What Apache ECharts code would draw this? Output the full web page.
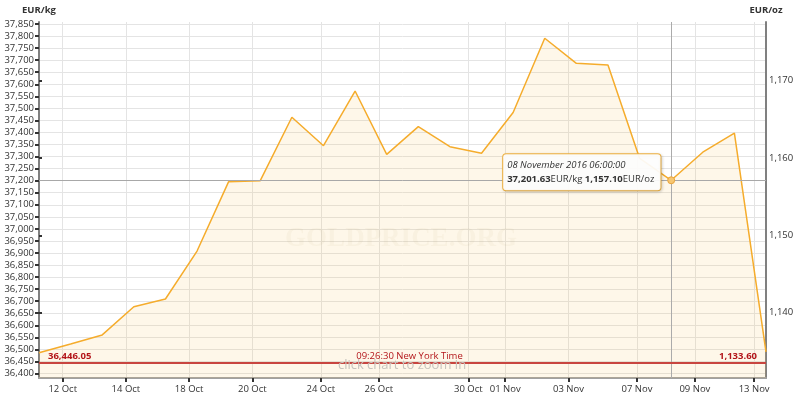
<!DOCTYPE html>
<html>
<head>
<meta charset="utf-8">
<script src="https://cdn.jsdelivr.net/npm/echarts@6/dist/echarts.min.js"></script>
<style>html,body{margin:0;padding:0;background:#fff}#c{width:802px;height:400px}</style>
</head>
<body>
<div id="c"></div>
<script>
// ---- data ----
const OZ_PER_KG = 32.1507466;
const pointTimes = ['2016-10-11 06:00','2016-10-12 06:00','2016-10-13 06:00','2016-10-14 06:00',
  '2016-10-17 06:00','2016-10-18 06:00','2016-10-19 06:00','2016-10-20 06:00','2016-10-21 06:00',
  '2016-10-24 06:00','2016-10-25 06:00','2016-10-26 06:00','2016-10-27 06:00','2016-10-28 06:00',
  '2016-10-31 06:00','2016-11-01 06:00','2016-11-02 06:00','2016-11-03 06:00','2016-11-04 06:00',
  '2016-11-07 06:00','2016-11-08 06:00','2016-11-09 06:00','2016-11-10 06:00','2016-11-14 14:26'];
const priceKg = [36486, 36522, 36560, 36677, 36709, 36908, 37196, 37200, 37463,
  37345, 37572, 37309, 37424, 37341, 37314, 37483, 37791, 37687, 37680,
  37293, 37201.63, 37318, 37397, 36490];
const tickDates = ['2016-10-12 00:00','2016-10-14 00:00','2016-10-18 00:00','2016-10-20 00:00',
  '2016-10-24 00:00','2016-10-26 00:00','2016-10-30 00:00','2016-11-01 00:00','2016-11-03 00:00',
  '2016-11-07 00:00','2016-11-09 00:00','2016-11-13 00:00'];
const tickLabels = ['12 Oct','14 Oct','18 Oct','20 Oct','24 Oct','26 Oct','30 Oct','01 Nov','03 Nov','07 Nov','09 Nov','13 Nov'];
const kgTickFirst = 36400, kgTickLast = 37850, kgTickStep = 50;
const ozTickFirst = 1140, ozTickLast = 1170, ozTickStep = 10;
const currentKg = 36446.05;
const currentTime = '09:26:30 New York Time';
const hoverIndex = 20;
const hoverLabel = '08 November 2016 06:00:00';

// ---- layout ----
const W = 802, H = 400;
const GRID = {left:39, right:36, top:22, bottom:22};
const KG_TICK_TOP_PX = 24, KG_TICK_BOTTOM_PX = 373.5;
const pxPerKg = (KG_TICK_BOTTOM_PX - KG_TICK_TOP_PX) / (kgTickLast - kgTickFirst);
const KG_MAX = kgTickLast + (KG_TICK_TOP_PX - GRID.top) / pxPerKg;
const KG_MIN = kgTickFirst - ((H - GRID.bottom) - KG_TICK_BOTTOM_PX) / pxPerKg;
const yOfKg = kg => GRID.top + (KG_MAX - kg) * pxPerKg;
const ozTopPx = yOfKg(ozTickLast * OZ_PER_KG), ozBottomPx = yOfKg(ozTickFirst * OZ_PER_KG);

// ---- helpers ----
function parseT(s){const m=s.match(/(\d+)-(\d+)-(\d+) (\d+):(\d+)/);return Date.UTC(+m[1],+m[2]-1,+m[3],+m[4],+m[5]);}
const T = pointTimes.map(parseT);
function ordinal(t){
  for(let i=0;i<T.length-1;i++){ if(t>=T[i]&&t<T[i+1]) return i+(t-T[i])/(T[i+1]-T[i]); }
  return T.length-1;
}
const FINE = 24;
const nFine = (T.length-1)*FINE + 1;
const fineCats = []; for(let i=0;i<nFine;i++) fineCats.push(String(i));
const tickMap = {};
tickDates.forEach((d,k)=>{ tickMap[Math.round(ordinal(parseT(d))*FINE)] = tickLabels[k]; });
const isTick = (idx)=> tickMap[idx] !== undefined;
function fmt(v,d){return v.toLocaleString('en-US',{minimumFractionDigits:d,maximumFractionDigits:d});}
const FONT = 'Open Sans';
const RED = '#b3151a';
const CLEAR = 'rgba(0,0,0,0)';

const hidden = {show:false};
const chart = echarts.init(document.getElementById('c'));
chart.setOption({
  animation:false,
  backgroundColor:'#fff',
  textStyle:{fontFamily:FONT},
  grid:[
    Object.assign({}, GRID),
    Object.assign({}, GRID),
    {left:GRID.left, right:GRID.right, top:KG_TICK_TOP_PX, bottom:H-KG_TICK_BOTTOM_PX},
    {left:GRID.left, right:GRID.right, top:ozTopPx, bottom:H-ozBottomPx}
  ],
  xAxis:[
    {gridIndex:0, type:'value', min:0, max:T.length-1,
     axisLine:{show:true,onZero:false,lineStyle:{color:'#a0a0a0',width:2}},
     axisTick:hidden, axisLabel:hidden, splitLine:hidden},
    {gridIndex:1, type:'category', data:fineCats, boundaryGap:false,
     axisLine:{show:false,onZero:false},
     axisTick:{show:true,interval:(i)=>isTick(i),length:4,lineStyle:{color:'#333',width:2}},
     axisLabel:{show:true,interval:(i)=>isTick(i),color:'#333',fontSize:9.5,fontFamily:FONT,margin:6,
       formatter:(v,i)=>tickMap[i]||''},
     splitLine:{show:true,interval:(i)=>isTick(i),lineStyle:{color:'#e4e4e4',width:1}}},
    {gridIndex:2, type:'value', min:0, max:1, show:false},
    {gridIndex:3, type:'value', min:0, max:1, show:false}
  ],
  yAxis:[
    {gridIndex:0, type:'value', min:KG_MIN, max:KG_MAX, position:'left',
     name:'EUR/kg', nameLocation:'end', nameGap:7,
     nameTextStyle:{fontWeight:'bold',fontSize:9.5,color:'#333',fontFamily:FONT,align:'center',verticalAlign:'bottom'},
     axisLine:{show:true,lineStyle:{color:'#808080',width:2}},
     axisTick:hidden, axisLabel:hidden, splitLine:hidden},
    {gridIndex:0, type:'value', min:KG_MIN/OZ_PER_KG, max:KG_MAX/OZ_PER_KG, position:'right',
     name:'EUR/oz', nameLocation:'end', nameGap:7,
     nameTextStyle:{fontWeight:'bold',fontSize:9.5,color:'#333',fontFamily:FONT,align:'center',verticalAlign:'bottom'},
     axisLine:{show:true,lineStyle:{color:'#808080',width:2}},
     axisTick:hidden, axisLabel:hidden, splitLine:hidden},
    {gridIndex:1, type:'value', show:false},
    {gridIndex:2, type:'value', min:kgTickFirst, max:kgTickLast, interval:kgTickStep, position:'left',
     axisLine:{show:false},
     axisTick:{show:true,length:4,lineStyle:{color:'#333',width:2}},
     axisLabel:{show:true,color:'#333',fontSize:9.5,fontFamily:FONT,margin:5,formatter:v=>fmt(v,0)},
     splitLine:{show:true,lineStyle:{color:'#e4e4e4',width:1}}},
    {gridIndex:3, type:'value', min:ozTickFirst, max:ozTickLast, interval:ozTickStep, position:'right',
     axisLine:{show:false},
     axisTick:{show:true,length:3,lineStyle:{color:'#333',width:2}},
     axisLabel:{show:true,color:'#333',fontSize:9.5,fontFamily:FONT,margin:3,formatter:v=>fmt(v,0)},
     splitLine:{show:false}}
  ],
  graphic:[
    {type:'text',left:'center',top:226,z:100,silent:true,
     style:{text:'GOLDPRICE.ORG',font:'bold 27px "Liberation Serif"',fill:'rgba(120,90,30,0.04)'}},
    {type:'text',x:402,y:365,z:100,silent:true,
     style:{text:'click chart to zoom in',font:'13px "Open Sans"',fill:'#c6c3bd',align:'center',verticalAlign:'middle'}}
  ],
  series:[{
    type:'line', xAxisIndex:0, yAxisIndex:0,
    data:priceKg.map((v,i)=>[i,v]),
    showSymbol:false, symbol:'none',
    lineStyle:{color:'#f5ac2c',width:1.5},
    areaStyle:{color:'rgba(245,200,100,0.2)',origin:'start'},
    z:2,
    markLine:{
      silent:true, symbol:['none','none'], animation:false,
      data:[
        {xAxis:hoverIndex,lineStyle:{color:'#ababab',width:1,type:'solid'},label:{show:false}},
        {yAxis:priceKg[hoverIndex],lineStyle:{color:'#a8a8a8',width:1,type:'solid'},label:{show:false}},
        {yAxis:currentKg,lineStyle:{color:'#c8453f',width:2,type:'solid'},
         label:{show:true,position:'insideStartTop',distance:1,padding:[0,0,0,8],formatter:fmt(currentKg,2),color:RED,fontWeight:'bold',fontSize:9.5,fontFamily:FONT}},
        {yAxis:currentKg,lineStyle:{color:CLEAR,width:0},
         label:{show:true,position:'insideMiddleTop',distance:1,padding:[0,0,0,14],formatter:currentTime,color:RED,fontSize:9.5,fontFamily:FONT}},
        {yAxis:currentKg,lineStyle:{color:CLEAR,width:0},
         label:{show:true,position:'insideEndTop',distance:1,padding:[0,8,0,0],formatter:fmt(currentKg/OZ_PER_KG,2),color:RED,fontWeight:'bold',fontSize:9.5,fontFamily:FONT}}
      ]
    },
    markPoint:{
      silent:true, animation:false,
      data:[{coord:[hoverIndex,priceKg[hoverIndex]],symbol:'circle',symbolSize:7,
        itemStyle:{color:'#f7c772',borderColor:'#e9a43c',borderWidth:1},
        label:{show:true,position:'inside',align:'left',verticalAlign:'middle',offset:[-168,-8],
          backgroundColor:'rgba(255,255,255,0.92)',borderColor:'#f0b343',borderWidth:1,borderRadius:3,
          padding:[4,6,4,4],shadowBlur:3,shadowColor:'rgba(0,0,0,0.15)',shadowOffsetX:1,shadowOffsetY:1,
          lineHeight:14,
          formatter:'{d|'+hoverLabel+'}\n{b|'+fmt(priceKg[hoverIndex],2)+'}{n|EUR/kg }{b|'+fmt(priceKg[hoverIndex]/OZ_PER_KG,2)+'}{n|EUR/oz}',
          rich:{
            d:{fontStyle:'italic',color:'#333',fontSize:9.5,fontFamily:FONT,lineHeight:14},
            b:{fontWeight:'bold',color:'#333',fontSize:9.5,fontFamily:FONT,lineHeight:14},
            n:{color:'#333',fontSize:9.5,fontFamily:FONT,lineHeight:14}
          }}
      }]
    }
  }]
});
</script>
</body>
</html>
